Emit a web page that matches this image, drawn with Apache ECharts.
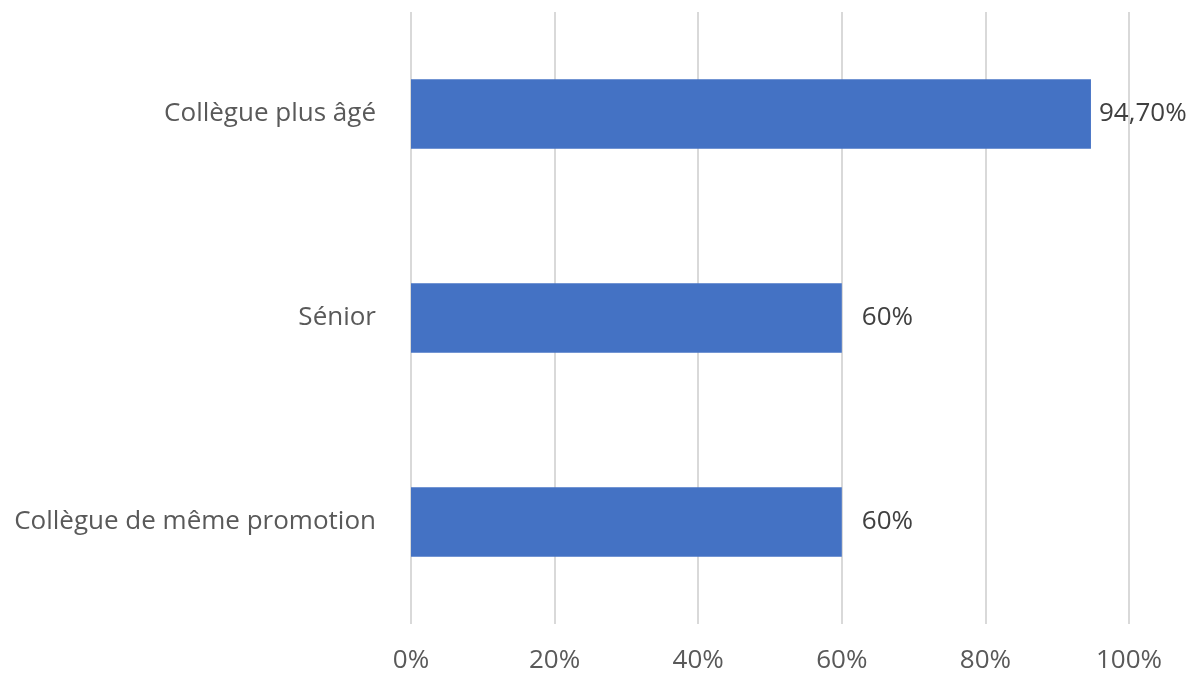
<!DOCTYPE html>
<html>
<head>
    <meta charset="utf-8" />
    <title>Collègues</title>
    <style>
        html, body { margin: 0; padding: 0; background: #fff; }
        #chart { width: 1202px; height: 679px; }
    </style>
    <script src="https://cdn.jsdelivr.net/npm/echarts@6/dist/echarts.min.js"></script>
</head>
<body>
    <div id="chart"></div>
    <script>
        // catégories, de bas en haut
        var categories = ['Collègue de même promotion', 'Sénior', 'Collègue plus âgé'];
        var values = [60, 60, 94.7];
        var xTicks = [0, 20, 40, 60, 80, 100];

        function fmt(v) {
            if (v === Math.round(v)) return v + '%';
            return v.toFixed(2).replace('.', ',') + '%';
        }

        var chart = echarts.init(document.getElementById('chart'));
        var font = '"Open Sans", sans-serif';

        chart.setOption({
            animation: false,
            grid: { left: 411, right: 73, top: 12, bottom: 55 },
            xAxis: {
                type: 'value',
                min: xTicks[0],
                max: xTicks[xTicks.length - 1],
                interval: 20,
                axisLine: { show: false },
                axisTick: { show: false },
                splitLine: { show: true, lineStyle: { color: '#d9d9d9', width: 2 } },
                axisLabel: {
                    margin: 24,
                    color: '#595959',
                    fontSize: 26,
                    fontFamily: font,
                    formatter: function (v) { return v + '%'; }
                }
            },
            yAxis: {
                type: 'category',
                data: categories,
                axisLine: { show: false },
                axisTick: { show: false },
                axisLabel: {
                    margin: 35,
                    color: '#595959',
                    fontSize: 26,
                    fontFamily: font
                }
            },
            series: [{
                type: 'bar',
                barWidth: '34%',
                itemStyle: { color: '#4472c4' },
                label: {
                    show: true,
                    position: 'right',
                    color: '#404040',
                    fontSize: 26,
                    fontFamily: font,
                    formatter: function (p) { return fmt(p.value); }
                },
                data: values.map(function (v) {
                    return { value: v, label: { distance: v === Math.round(v) ? 20 : 8 } };
                })
            }]
        });
    </script>
</body>
</html>
